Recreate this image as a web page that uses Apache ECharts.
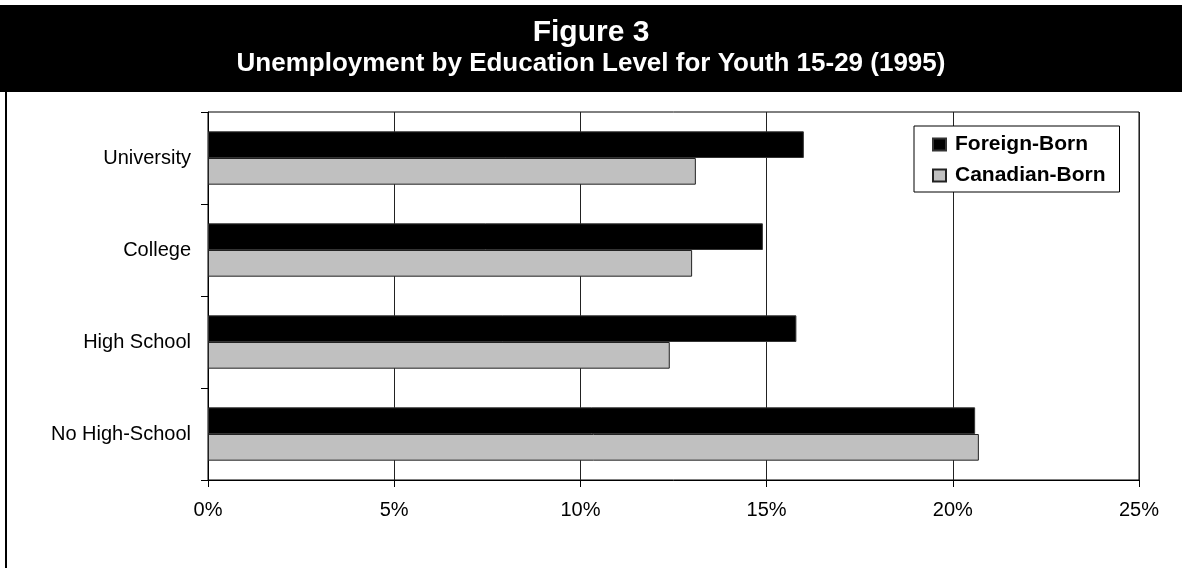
<!DOCTYPE html>
<html>
<head>
<meta charset="utf-8">
<script src="https://cdn.jsdelivr.net/npm/echarts@6/dist/echarts.min.js"></script>
<style>
  html, body { margin: 0; padding: 0; background: #fff; }
  #chart { width: 1182px; height: 568px; }
</style>
</head>
<body>
<div id="chart"></div>
<script>
// data (percent)
const categories = ["No High-School", "High School", "College", "University"];
const foreignBorn = [20.6, 15.8, 14.9, 16.0];
const canadianBorn = [20.7, 12.4, 13.0, 13.1];
const seriesNames = ["Foreign-Born", "Canadian-Born"];
const xTicks = [0, 5, 10, 15, 20, 25];

const chart = echarts.init(document.getElementById("chart"));

const option = {
  backgroundColor: "#fff",
  animation: false,
  textStyle: { fontFamily: "Liberation Sans, Arial, sans-serif" },
  graphic: [
    {
      type: "rect",
      shape: { x: 0, y: 5, width: 1182, height: 87 },
      style: { fill: "#000" },
      z: 0,
    },
    {
      type: "rect",
      shape: { x: 5, y: 92, width: 2, height: 476 },
      style: { fill: "#000" },
      z: 0,
    },
  ],
  title: {
    text: "Figure 3",
    subtext: "Unemployment by Education Level for Youth 15-29 (1995)",
    left: "center",
    top: 18,
    itemGap: 3,
    padding: 0,
    textStyle: {
      color: "#fff",
      fontSize: 30,
      lineHeight: 30,
      fontWeight: "bold",
      fontFamily: "Liberation Sans, Arial, sans-serif",
    },
    subtextStyle: {
      color: "#fff",
      fontSize: 26,
      lineHeight: 26,
      fontWeight: "bold",
      fontFamily: "Liberation Sans, Arial, sans-serif",
    },
  },
  legend: {
    data: seriesNames,
    orient: "vertical",
    left: 914,
    top: 126,
    padding: [8, 14, 6, 18],
    itemGap: 10,
    itemWidth: 13,
    itemHeight: 12,
    icon: "rect",
    borderColor: "#000",
    borderWidth: 1,
    backgroundColor: "#fff",
    textStyle: {
      fontSize: 21,
      fontWeight: "bold",
      color: "#000",
      padding: [0, 0, 0, 4],
      fontFamily: "Liberation Sans, Arial, sans-serif",
    },
  },
  grid: {
    left: 208,
    right: 43,
    top: 112,
    bottom: 88,
    show: true,
    borderColor: "#000",
    borderWidth: 1,
    backgroundColor: "#fff",
  },
  xAxis: {
    type: "value",
    min: xTicks[0],
    max: xTicks[xTicks.length - 1],
    interval: 5,
    axisLine: { show: true, lineStyle: { color: "#000", width: 1 } },
    axisTick: { show: true, length: 7, lineStyle: { color: "#000" } },
    splitLine: { show: true, lineStyle: { color: "#222", width: 1 } },
    axisLabel: {
      formatter: "{value}%",
      fontSize: 20,
      color: "#000",
      margin: 20,
    },
  },
  yAxis: {
    type: "category",
    data: categories,
    axisLine: { show: true, lineStyle: { color: "#000", width: 1 } },
    axisTick: { show: true, length: 7, lineStyle: { color: "#000" } },
    splitLine: { show: false },
    axisLabel: { fontSize: 20, color: "#000", margin: 17 },
  },
  series: [
    {
      name: seriesNames[0],
      type: "bar",
      data: foreignBorn,
      barGap: 0,
      barCategoryGap: "42%",
      itemStyle: { color: "#000", borderColor: "#333", borderWidth: 1 },
    },
    {
      name: seriesNames[1],
      type: "bar",
      data: canadianBorn,
      barGap: 0,
      barCategoryGap: "42%",
      itemStyle: { color: "#c0c0c0", borderColor: "#222", borderWidth: 1 },
    },
  ],
};

chart.setOption(option);
</script>
</body>
</html>
